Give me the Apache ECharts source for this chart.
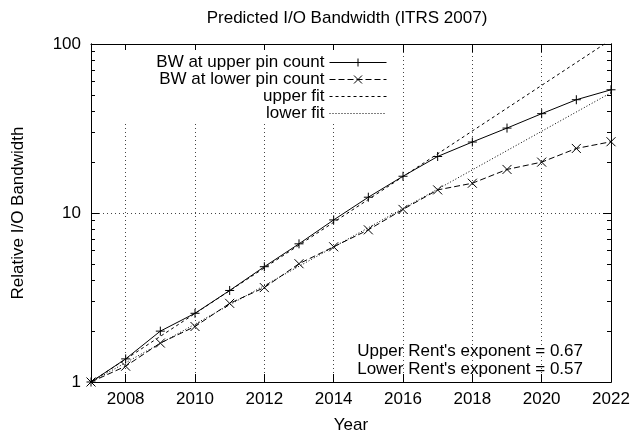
<!DOCTYPE html>
<html>
<head>
<meta charset="utf-8">
<script src="https://cdn.jsdelivr.net/npm/echarts@6/dist/echarts.min.js"></script>
<style>
  html, body { margin: 0; padding: 0; background: #fff; }
  #main { width: 633px; height: 439px; }
</style>
</head>
<body>
<div id="main"></div>
<script>
// data
var years = [2007, 2008, 2009, 2010, 2011, 2012, 2013, 2014, 2015, 2016, 2017, 2018, 2019, 2020, 2021, 2022];
var upperBW = [1, 1.37, 2.0, 2.55, 3.48, 4.81, 6.57, 9.1, 12.4, 16.5, 21.6, 26.3, 31.8, 38.7, 46.8, 53.6];
var lowerBW = [1, 1.24, 1.70, 2.13, 2.92, 3.62, 5.01, 6.31, 7.95, 10.5, 13.7, 15.0, 18.1, 20.0, 24.1, 26.4];
var fitYears = [2007, 2022];
var upperFit = [1, 106];
var lowerFit = [1, 51.5];
var xTicks = [2008, 2010, 2012, 2014, 2016, 2018, 2020, 2022];
var yMajor = [1, 10, 100];
var yMinor = [2, 3, 4, 5, 6, 7, 8, 9, 20, 30, 40, 50, 60, 70, 80, 90];

var names = ['BW at upper pin count', 'BW at lower pin count', 'upper fit', 'lower fit'];
var font = 'Liberation Sans, Arial, sans-serif';
var fs = 17;

function pairs(xs, ys) {
  return xs.map(function (x, i) { return [x, ys[i]]; });
}

var plusSym = 'path://M0,5L10,5M5,0L5,10';
var crossSym = 'path://M0,0L10,10M10,0L0,10';

var chart = echarts.init(document.getElementById('main'), null, { renderer: 'canvas' });

function yAx(pos, ticks, len, showLabel, showSplit) {
  return {
    type: 'log',
    logBase: 10,
    position: pos,
    min: 1,
    max: 100,
    axisLine: { show: true, onZero: false, lineStyle: { color: '#000', width: 1 } },
    axisTick: { show: true, inside: true, length: len, customValues: ticks, lineStyle: { color: '#000' } },
    axisLabel: { show: showLabel, customValues: ticks, margin: 10, color: '#000', fontSize: fs, fontFamily: font },
    splitLine: { show: showSplit, lineStyle: { color: '#444', type: [1, 3], width: 1 } },
    minorTick: { show: false },
    name: showLabel ? 'Relative I/O Bandwidth' : '',
    nameLocation: 'middle',
    nameGap: 64,
    nameTextStyle: { color: '#000', fontSize: fs, fontFamily: font }
  };
}

function xAx(pos, showLabel, showSplit) {
  return {
    type: 'value',
    position: pos,
    min: 2007,
    max: 2022,
    axisLine: { show: true, onZero: false, lineStyle: { color: '#000', width: 1 } },
    axisTick: { show: true, inside: true, length: 8, customValues: xTicks, lineStyle: { color: '#000' } },
    axisLabel: {
      show: showLabel, customValues: xTicks, margin: 9, color: '#000', fontSize: fs, fontFamily: font,
      formatter: function (v) { return String(v); }
    },
    splitLine: { show: showSplit, lineStyle: { color: '#444', type: [1, 3], width: 1 } },
    name: showLabel ? 'Year' : '',
    nameLocation: 'middle',
    nameGap: 35,
    nameTextStyle: { color: '#000', fontSize: fs, fontFamily: font }
  };
}

function legendAt(i, top, hideSym) {
  var lg = {
    data: [names[i]],
    right: 246,
    top: top,
    align: 'right',
    itemWidth: 57,
    itemHeight: 10,
    itemGap: 0,
    padding: 0,
    selectedMode: false,
    lineStyle: { width: 1 },
    itemStyle: { borderWidth: 1 },
    textStyle: { color: '#000', fontSize: fs, fontFamily: font }
  };
  if (hideSym) lg.itemStyle = { opacity: 0 };
  return lg;
}

chart.setOption({
  animation: false,
  backgroundColor: '#fff',
  title: {
    text: 'Predicted I/O Bandwidth (ITRS 2007)',
    left: 347,
    textAlign: 'center',
    top: 10,
    padding: 0,
    textStyle: { color: '#000', fontSize: fs, fontWeight: 'normal', fontFamily: font }
  },
  grid: { left: 91, right: 22, top: 44, bottom: 55 },
  xAxis: [xAx('bottom', true, true), xAx('top', false, false)],
  yAxis: [
    yAx('left', yMajor, 8, true, true),
    yAx('left', yMinor, 4, false, false),
    yAx('right', yMajor, 8, false, false),
    yAx('right', yMinor, 4, false, false)
  ],
  legend: [legendAt(0, 54), legendAt(1, 71), legendAt(2, 88, true), legendAt(3, 105, true)],
  graphic: [
    {
      type: 'rect', z: 1, silent: true,
      shape: { x: 100, y: 50, width: 292, height: 72 },
      style: { fill: '#fff' }
    },
    {
      type: 'text', z: 5, right: 50, top: 343,
      style: { text: "Upper Rent's exponent = 0.67", fill: '#000', font: fs + 'px ' + font, textAlign: 'right' }
    },
    {
      type: 'text', z: 5, right: 50, top: 361,
      style: { text: "Lower Rent's exponent = 0.57", fill: '#000', font: fs + 'px ' + font, textAlign: 'right' }
    }
  ],
  series: [
    {
      name: names[0], type: 'line', data: pairs(years, upperBW),
      symbol: plusSym, symbolSize: 9, showSymbol: true,
      lineStyle: { color: '#000', width: 1, type: 'solid' },
      itemStyle: { color: '#000', borderColor: '#000', borderWidth: 1 },
      z: 4
    },
    {
      name: names[1], type: 'line', data: pairs(years, lowerBW),
      symbol: crossSym, symbolSize: 9, showSymbol: true,
      lineStyle: { color: '#000', width: 1, type: [6, 3] },
      itemStyle: { color: '#000', borderColor: '#000', borderWidth: 1 },
      z: 4
    },
    {
      name: names[2], type: 'line', data: pairs(fitYears, upperFit),
      symbol: 'none', clip: true,
      lineStyle: { color: '#000', width: 1, type: [3, 3] },
      itemStyle: { color: '#000' },
      z: 3
    },
    {
      name: names[3], type: 'line', data: pairs(fitYears, lowerFit),
      symbol: 'none', clip: true,
      lineStyle: { color: '#000', width: 1, type: [1, 2] },
      itemStyle: { color: '#000' },
      z: 3
    }
  ]
});
</script>
</body>
</html>
